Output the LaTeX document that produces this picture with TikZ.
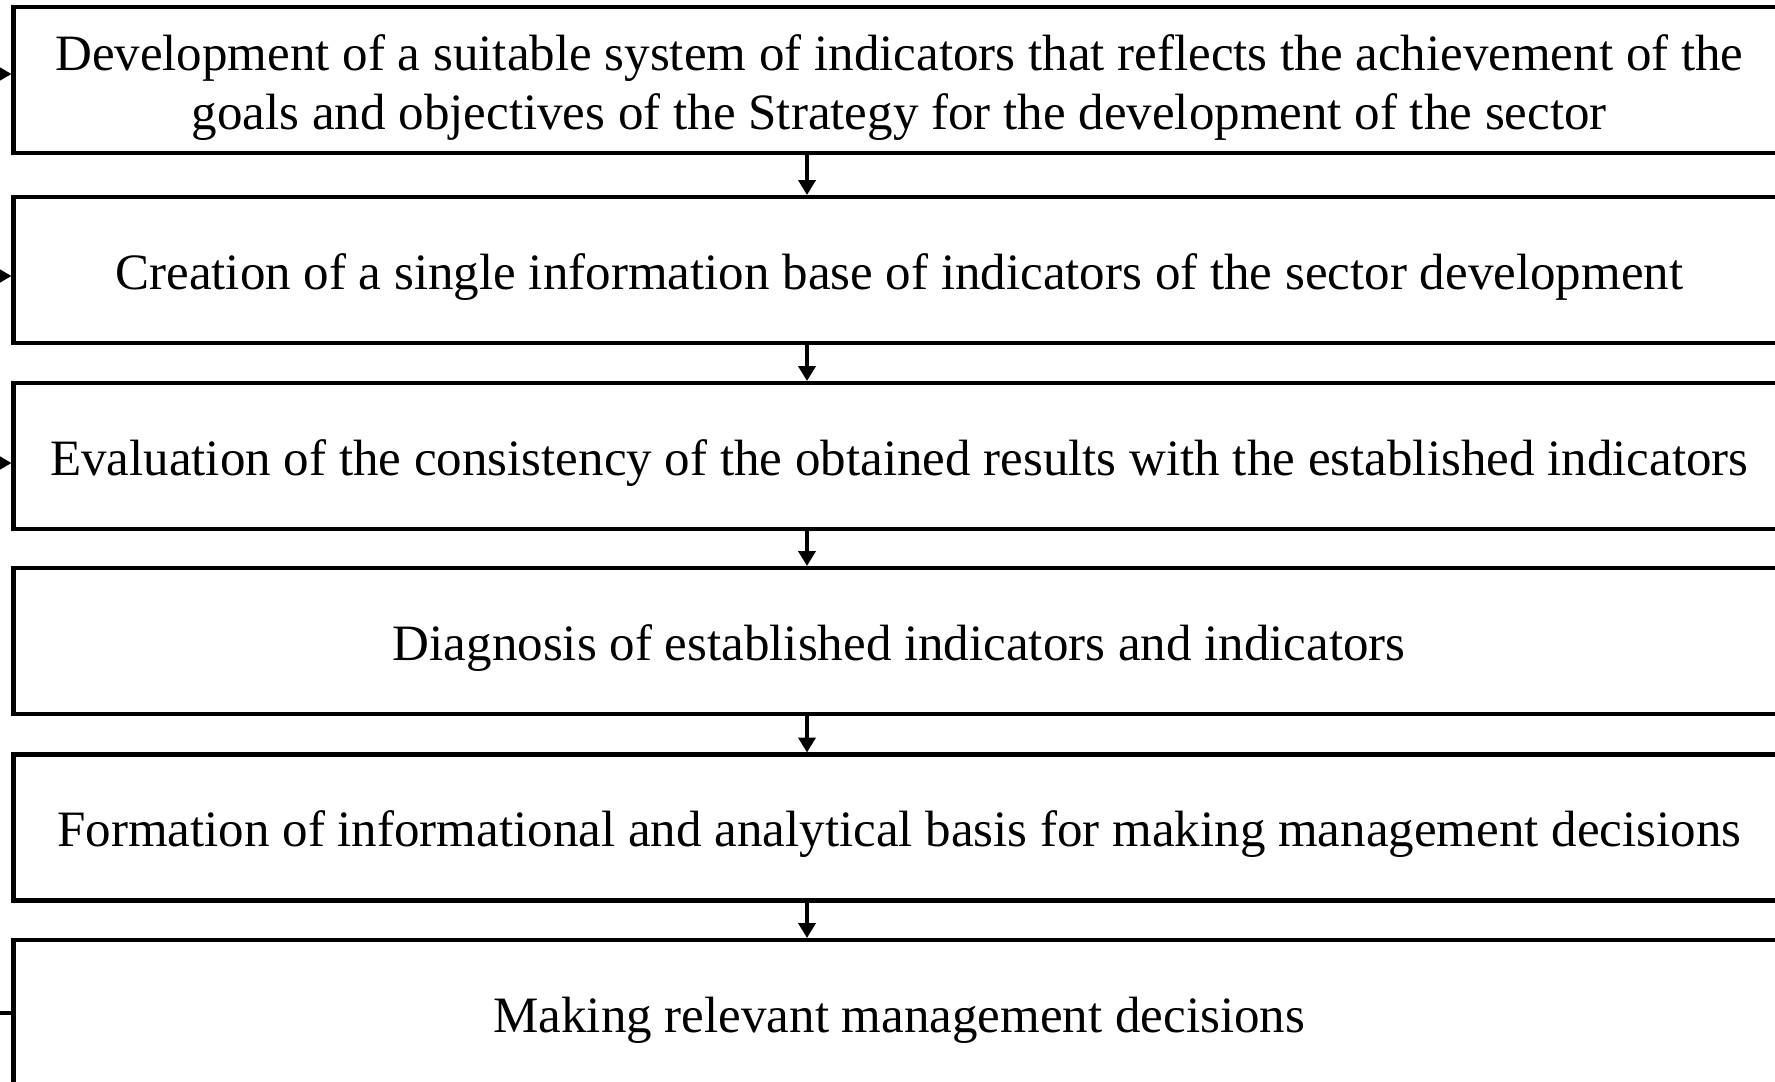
\documentclass[tikz,border=0pt]{standalone}
\usepackage{fontspec}
\setmainfont{Liberation Serif}
\usetikzlibrary{arrows.meta}
\newcommand{\lowertext}[2]{\raisebox{-#1}[\height][\depth]{#2}}
\begin{document}
\begin{tikzpicture}[x=0.5pt,y=-0.5pt,
  stepbox/.style={draw=black, line width=2.2pt, fill=white, minimum width=885.75pt,
    minimum height=73pt, inner sep=0pt, outer sep=0pt, align=center,
    font=\fontsize{25.5}{28.3}\selectfont},
  downarrow/.style={line width=2.2pt, shorten >=1pt, -{Triangle[length=7.5pt,width=8.5pt]}},
  sidearrow/.style={line width=2.2pt, shorten >=1pt, -{Triangle[length=6pt,width=6.5pt]}},
  sideline/.style={line width=2.2pt}]
\useasboundingbox (0,0) rectangle (1775,1081);
\begin{scope}
\clip (0,0) rectangle (1775,1081);
\node[stepbox] (b1) at (899.25,80) {\lowertext{4pt}{\shortstack{Development of a suitable system of indicators that reflects the achievement of the\\[3pt]goals and objectives of the Strategy for the development of the sector}}};
\node[stepbox] (b2) at (899.25,270) {\lowertext{3.4pt}{Creation of a single information base of indicators of the sector development}};
\node[stepbox] (b3) at (899.25,456) {\lowertext{3.4pt}{Evaluation of the consistency of the obtained results with the established indicators}};
\node[stepbox] (b4) at (899.25,641) {\lowertext{3.4pt}{Diagnosis of established indicators and indicators}};
\node[stepbox] (b5) at (899.25,827.5) {\lowertext{3.4pt}{Formation of informational and analytical basis for making management decisions}};
\node[stepbox] (b6) at (899.25,1013) {\lowertext{3.4pt}{Making relevant management decisions}};
\coordinate (t1) at (807,0);
\foreach \a/\b in {b1/b2,b2/b3,b3/b4,b4/b5,b5/b6}
  \draw[downarrow] (t1 |- \a.south) -- (t1 |- \b.north);
\coordinate (l1) at (-20,74);
\coordinate (l2) at (-20,276);
\coordinate (l3) at (-20,463);
\coordinate (l6) at (-20,1013);
\draw[sidearrow] (l1) -- (l1 -| b1.west);
\draw[sidearrow] (l2) -- (l2 -| b2.west);
\draw[sidearrow] (l3) -- (l3 -| b3.west);
\draw[sideline] (l6) -- (l6 -| b6.west);
\end{scope}
\end{tikzpicture}
\end{document}
